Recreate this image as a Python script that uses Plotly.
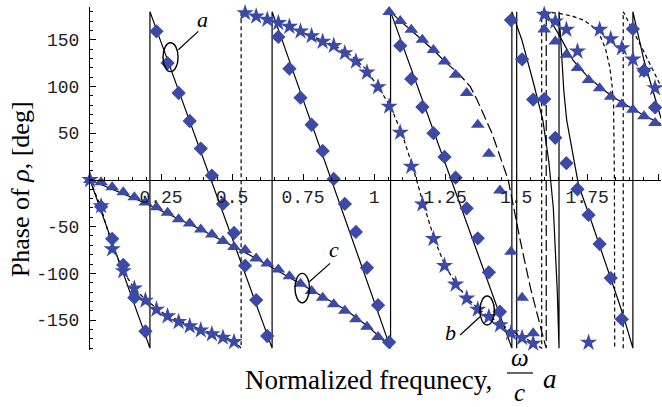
import plotly.graph_objects as go

# ---------------- data ----------------
# frequency samples of the simulated points (omega a / c)
x_samples = [0, 0.039, 0.078, 0.117, 0.156, 0.195, 0.234, 0.273, 0.312, 0.351, 0.39, 0.429,
             0.468, 0.507, 0.546, 0.585, 0.624, 0.663, 0.702, 0.741, 0.78, 0.819, 0.858,
             0.897, 0.936, 0.975, 1.014, 1.053, 1.092, 1.131, 1.17, 1.209, 1.248, 1.287,
             1.326, 1.365, 1.404, 1.443, 1.482, 1.521, 1.56, 1.599, 1.638, 1.677, 1.716,
             1.755, 1.794, 1.833, 1.872, 1.911, 1.95, 1.989]

# (a) diamonds, samples 1..51
phase_a_pts = [-28.6, -63, -91, -126, -162, 159, 125, 93, 63, 33.5, 4.6, -25.7, -56.8, -91.8,
               -128.6, -167, 153, 119, 88, 59, 31, 1, -25.7, -55.7, -94, -134, -173.6, 143.6,
               108, 78, 50, 24.6, 2.4, -30.4, -62.5, -98.9, -141.1, 171, 129, 86, 86.5, 45,
               17.9, -10, -37.5, -68.6, -105, -149, 161.5, 117, 77.5]
# (b) stars, samples 0..51
phase_b_pts = [0, -27.9, -74, -97.5, -116, -129, -138.6, -145.8, -151.8, -156.5, -160.8, -165,
               -168.6, -173.3, 178.6, 175, 171.5, 168, 164, 159, 154, 148, 143.6, 135.8, 126.8,
               115, 99.4, 78.6, 50.7, 14.3, -26, -63, -91.8, -111.8, -126.8, -138.6, -146.5,
               -155.4, -163.6, -169, -175, 176.8, 169.7, 160.8, 137.5, -174, 160.8, 150.8, 141,
               129, 117, 98.3]
# (c) triangles, samples 0..51
phase_c_pts = [0, -2.5, -7.8, -13.2, -18.6, -24.3, -29.3, -35.1, -42.2, -46.6, -53, -58.4, -65.3,
               -71.7, -75, -84, -89.4, -96, -103, -111, -119, -126, -133, -140, -149, -157, -168,
               179.7, 170, 160.7, 150, 139, 126.8, 112.5, 93, 59, 28, -11.4, -77, -126, -164,
               161, 148, 134, 119.7, 107, 98, 89, 81, 75, 68, 61]

# model curves (wrapped phase, vertical jumps included as drawn in the original)
model_a_x = [0, 0.211, 0.211, 0.641, 0.641, 1.058, 1.058, 1.485, 1.485, 1.52, 1.56, 1.594, 1.615,
             1.631, 1.645, 1.651, 1.651, 1.658, 1.668, 1.678, 1.7, 1.72, 1.76, 1.8, 1.84, 1.875,
             1.911, 1.911, 1.95, 2.01]
model_a_y = [0, -180, 180, -180, 180, -180, 180, -180, 180, 150, 105, 64, 20, -30, -120, -180,
             180, 140, 95, 64, 28, -6, -40, -75, -110, -143, -180, 180, 128, 66]

model_b_x = [0, 0.039, 0.078, 0.117, 0.156, 0.195, 0.26, 0.33, 0.4, 0.47, 0.51, 0.532, 0.532,
             0.6, 0.7, 0.8, 0.86, 0.92, 0.97, 1.02, 1.06, 1.1, 1.136, 1.174, 1.212, 1.25, 1.29,
             1.33, 1.37, 1.41, 1.45, 1.49, 1.53, 1.565, 1.59, 1.59, 1.655, 1.7, 1.737, 1.77,
             1.796, 1.815, 1.83, 1.838, 1.843, 1.846, 1.847, None, 1.877, 1.877, 1.95, 2.01]
model_b_y = [0, -30, -70, -98, -116, -128, -143, -153, -161, -168, -173, -180, 180, 174, 164,
             151, 144, 133, 119, 97, 77, 48, 14, -26, -63, -92, -112, -127, -139, -147, -155,
             -163, -169, -175, -180, 180, 178, 175, 171, 164, 154, 140, 120, 100, 80, 0, -180,
             None, -180, 180, 137, 100]

model_c1_x = [0, 0.195, 0.39, 0.585, 0.78, 0.9, 0.975, 1.02, 1.058]
model_c1_y = [0, -25, -53, -84, -118, -139, -156, -168, -180]
model_c2_x = [1.058, 1.092, 1.131, 1.17, 1.209, 1.248, 1.3, 1.338, 1.362, 1.415, 1.456, 1.472,
              1.514, 1.55, 1.595, 1.606, 1.606]
model_c2_y = [180, 170, 160, 150, 139, 127, 113, 100, 86, 50, 14, 0, -64, -115, -168, -180, 180]
model_c3_x = [1.606, 1.62, 1.655, 1.7, 1.75, 1.8, 1.85, 1.9, 1.95, 2.01]
model_c3_y = [180, 171, 153, 128, 111, 98, 87, 78, 69, 60]

aux_x = [1.502, 1.502]
aux_y = [-180, 180]

x_tickvals = [0.25, 0.5, 0.75, 1, 1.25, 1.5, 1.75, 2]
x_ticklabels = ["0.25", "0.5", "0.75", "1", "1.25", "1.5", "1.75", "2"]
y_tickvals = [-150, -100, -50, 50, 100, 150]
y_ticklabels = ["-150", "-100", "-50", "50", "100", "150"]

# ---------------- figure ----------------
MARK = "#3a4aa6"
fig = go.Figure()

def line(x, y, dash="solid", width=1.2, color="black"):
    fig.add_trace(go.Scatter(x=x, y=y, mode="lines", line=dict(color=color, width=width, dash=dash),
                             connectgaps=False, hoverinfo="skip", showlegend=False))

line(model_a_x, model_a_y)
line(aux_x, aux_y)
line(model_b_x, model_b_y, dash="4px,3px")
line(model_c1_x, model_c1_y)
line(model_c2_x, model_c2_y, dash="11px,4px")
line(model_c3_x, model_c3_y)

fig.add_trace(go.Scatter(x=x_samples, y=phase_b_pts, mode="markers", cliponaxis=False,
                         marker=dict(symbol="star", size=13, color=MARK, line=dict(width=0)),
                         hoverinfo="skip", showlegend=False))
fig.add_trace(go.Scatter(x=x_samples[1:], y=phase_a_pts, mode="markers", cliponaxis=False,
                         marker=dict(symbol="diamond", size=11, color=MARK, line=dict(width=0)),
                         hoverinfo="skip", showlegend=False))
fig.add_trace(go.Scatter(x=x_samples, y=phase_c_pts, mode="markers", cliponaxis=False,
                         marker=dict(symbol="triangle-up", size=12, color=MARK, line=dict(width=0)),
                         hoverinfo="skip", showlegend=False))

# ellipses marking curves a, b, c and their pointer lines
ellipses = {"a": (0.2835, 131.3, 0.0265, 15.5), "c": (0.747, -115.7, 0.0255, 15.7),
            "b": (1.398, -139.8, 0.0255, 15.5)}
pointers = {"a": ((0.311, 139.3), (0.381, 158.9), (0.395, 172)),
            "c": ((0.772, -109), (0.845, -89.3), (0.858, -74)),
            "b": ((1.373, -146.4), (1.303, -166), (1.268, -163))}
for key, (cx, cy, rx, ry) in ellipses.items():
    fig.add_shape(type="circle", xref="x", yref="y", x0=cx - rx, x1=cx + rx, y0=cy - ry, y1=cy + ry,
                  line=dict(color="black", width=1.4))
    (p0, p1, lab) = pointers[key]
    fig.add_shape(type="line", xref="x", yref="y", x0=p0[0], y0=p0[1], x1=p1[0], y1=p1[1],
                  line=dict(color="black", width=1.2))
    fig.add_annotation(x=lab[0], y=lab[1], xref="x", yref="y", text="<i>%s</i>" % key, showarrow=False,
                       xanchor="center", yanchor="middle",
                       font=dict(family="Liberation Serif", size=22, color="black"))

yr = [-182, 185]
fig.update_layout(
    width=662, height=407, margin=dict(l=90, r=1, t=7, b=57),
    paper_bgcolor="white", plot_bgcolor="white",
    xaxis=dict(range=[0, 2.01], showgrid=False, zeroline=False, showline=True, linecolor="black",
               linewidth=1, ticks="inside", ticklen=6, tickcolor="black", tickvals=x_tickvals,
               ticktext=x_ticklabels, anchor="free", position=-yr[0] / (yr[1] - yr[0]),
               tickfont=dict(family="Liberation Mono", size=18, color="#222"),
               minor=dict(ticks="inside", ticklen=3, dtick=0.05, tick0=0, tickcolor="black")),
    yaxis=dict(range=yr, showgrid=False, zeroline=False, showline=True, linecolor="black",
               linewidth=1, ticks="inside", ticklen=6, tickcolor="black", tickvals=y_tickvals,
               ticktext=y_ticklabels, ticklabelstandoff=6,
               tickfont=dict(family="Liberation Mono", size=18, color="#222"),
               minor=dict(ticks="inside", ticklen=3, dtick=10, tick0=0, tickcolor="black")),
)

serif = "Liberation Serif"
def note(x, y, text, size, angle=0):
    fig.add_annotation(xref="paper", yref="paper", x=x, y=y, text=text, textangle=angle,
                       showarrow=False, xanchor="center", yanchor="middle",
                       font=dict(family=serif, size=size, color="black"))

note(-0.1226, 0.469, "Phase of <i>ρ</i>, [deg]", 26, -90)
note(0.4886, -0.0875, "Normalized frequnecy,", 27)
note(0.753, -0.022, "<i>ω</i>", 25)
note(0.753, -0.125, "<i>c</i>", 25)
note(0.8056, -0.085, "<i>a</i>", 27)
fig.add_shape(type="line", xref="paper", yref="paper", x0=0.7303, x1=0.7758, y0=-0.067, y1=-0.067,
              line=dict(color="black", width=1.2))

fig.write_html("out.html", config={"displayModeBar": False},
               post_script="document.body.style.margin='0px';")
